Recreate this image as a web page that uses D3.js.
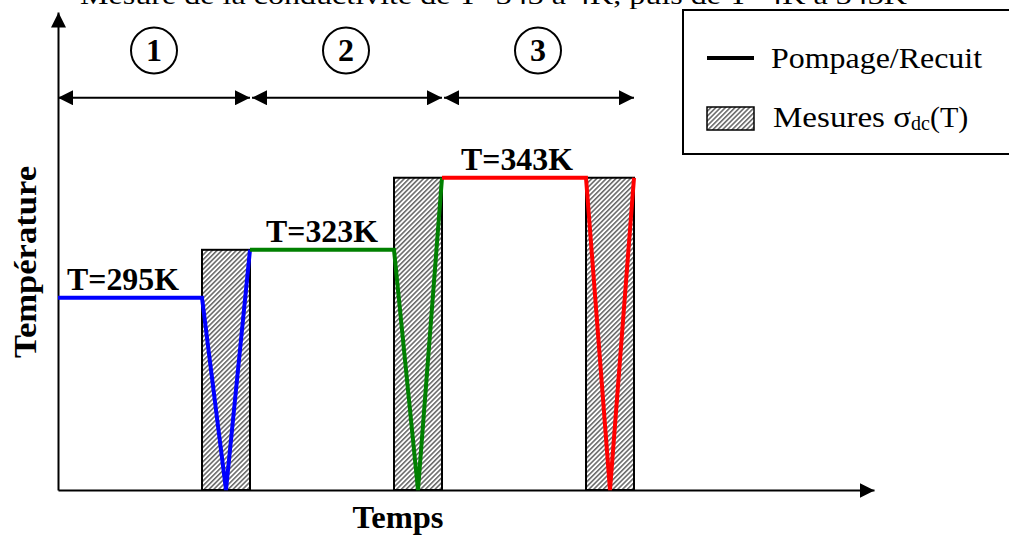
<!DOCTYPE html>
<html><head><meta charset="utf-8">
<script src="https://cdn.jsdelivr.net/npm/d3@7"></script>
<style>
html,body{margin:0;padding:0;background:#fff;overflow:hidden}
text{font-family:"Liberation Serif","Times New Roman",serif;fill:#000}
</style></head>
<body>
<svg id="chart" width="1009" height="537"></svg>
<script>
// ---- data (schematic units: time steps / temperature levels) ----
const titleText = "Mesure de la conductivité de T=343 à 4K, puis de T=4K à 343K";
const stepLabels = ["1", "2", "3"];
const stepStart = [0, 4, 8];
const stepEnd = [4, 8, 12];
const plateauLabels = ["T=295K", "T=323K", "T=343K"];
const plateauStart = [0, 4, 8];
const plateauEnd = [3, 7, 11];
const plateauLevel = [8, 10, 13];
const boxStart = [3, 7, 11];
const boxEnd = [4, 8, 12];
const boxTop = [10, 13, 13];
const seriesColors = ["#0000ff", "#008000", "#ff0000"];
const seriesTime = [[0, 3, 3.5, 4], [4, 7, 7.5, 8], [8, 11, 11.5, 12]];
const seriesLevel = [[8, 8, 0, 10], [10, 10, 0, 13], [13, 13, 0, 13]];
const legendLabels = ["Pompage/Recuit", "Mesures σdc(T)"];
const xLabel = "Temps", yLabel = "Température";

const svg = d3.select("#chart");
const x = d3.scaleLinear().domain([0, 17]).range([58, 874]);
const y = d3.scaleLinear().domain([0, 19.9]).range([490, 12]);

const defs = svg.append("defs");
const pat = defs.append("pattern").attr("id", "hatch").attr("patternUnits", "userSpaceOnUse")
  .attr("width", 3.4).attr("height", 3.4).attr("patternTransform", "rotate(45)");
pat.append("rect").attr("width", 3.4).attr("height", 3.4).attr("fill", "#fff");
pat.append("line").attr("x1", 0.8).attr("y1", 0).attr("x2", 0.8).attr("y2", 3.4)
  .attr("stroke", "#3a3a3a").attr("stroke-width", 1.2);

function marker(id, len, half, orient) {
  defs.append("marker").attr("id", id).attr("markerUnits", "userSpaceOnUse")
    .attr("viewBox", `0 ${-half} ${len} ${2 * half}`).attr("refX", len).attr("refY", 0)
    .attr("markerWidth", len).attr("markerHeight", 2 * half).attr("orient", orient)
    .append("path").attr("d", `M0,${-half}L${len},0L0,${half}Z`).attr("fill", "#000");
}
marker("axArrow", 15, 7.5, "auto");
marker("dblArrow", 15, 7.5, "auto-start-reverse");

// title (clipped at top, as in the source figure)
svg.append("text").attr("x", 80).attr("y", 4).attr("font-size", 26)
  .attr("textLength", 827).attr("lengthAdjust", "spacingAndGlyphs").text(titleText);

// measurement boxes
svg.append("g").selectAll("rect").data(boxStart).join("rect")
  .attr("x", (d) => x(d)).attr("y", (d, i) => y(boxTop[i]))
  .attr("width", (d, i) => x(boxEnd[i]) - x(d)).attr("height", (d, i) => y(0) - y(boxTop[i]))
  .attr("fill", "url(#hatch)").attr("stroke", "#000").attr("stroke-width", 2);

// axes
const gx = svg.append("g").attr("transform", `translate(0,${y(0)})`)
  .call(d3.axisBottom(x).tickValues([]).tickSizeOuter(0));
gx.select(".domain").attr("stroke", "#000").attr("stroke-width", 2).attr("marker-end", "url(#axArrow)");
const gy = svg.append("g").attr("transform", `translate(${x(0)},0)`)
  .call(d3.axisLeft(y).tickValues([]).tickSizeOuter(0));
gy.select(".domain").attr("stroke", "#000").attr("stroke-width", 2).attr("marker-end", "url(#axArrow)");

// temperature lines
const line = d3.line().x((d) => x(d[0])).y((d) => y(d[1]));
svg.append("g").selectAll("path").data(seriesTime).join("path")
  .attr("d", (d, i) => line(d.map((t, j) => [t, seriesLevel[i][j]])))
  .attr("fill", "none").attr("stroke", (d, i) => seriesColors[i])
  .attr("stroke-width", 4).attr("stroke-linejoin", "miter");

// plateau labels
svg.append("g").selectAll("text").data(plateauLabels).join("text")
  .attr("x", (d, i) => x((plateauStart[i] + plateauEnd[i]) / 2) - (i === 0 ? 7 : (i === 2 ? -3 : 0)))
  .attr("y", (d, i) => y(plateauLevel[i]) - 8)
  .attr("text-anchor", "middle").attr("font-size", 31).attr("font-weight", "bold")
  .attr("textLength", 112).attr("lengthAdjust", "spacingAndGlyphs").text((d) => d);

// step double arrows + numbered circles
const arrowLevel = 16.33, circleLevel = 18.3;
svg.append("g").selectAll("line").data(stepStart).join("line")
  .attr("x1", (d, i) => x(d) + (i ? 2 : 0)).attr("x2", (d, i) => x(stepEnd[i]))
  .attr("y1", y(arrowLevel)).attr("y2", y(arrowLevel))
  .attr("stroke", "#000").attr("stroke-width", 2)
  .attr("marker-start", "url(#dblArrow)").attr("marker-end", "url(#dblArrow)");
const circ = svg.append("g").selectAll("g").data(stepLabels).join("g")
  .attr("transform", (d, i) => `translate(${x((stepStart[i] + stepEnd[i]) / 2)},${y(circleLevel)})`);
circ.append("circle").attr("r", 23).attr("fill", "#fff").attr("stroke", "#000").attr("stroke-width", 2);
circ.append("text").attr("text-anchor", "middle").attr("y", 11).attr("font-size", 32)
  .attr("font-weight", "bold").text((d) => d);

// axis labels
svg.append("text").attr("x", 398).attr("y", 528).attr("text-anchor", "middle")
  .attr("font-size", 31).attr("font-weight", "bold")
  .attr("textLength", 91).attr("lengthAdjust", "spacingAndGlyphs").text(xLabel);
svg.append("text").attr("transform", "translate(36,262) rotate(-90)").attr("text-anchor", "middle")
  .attr("font-size", 31).attr("font-weight", "bold")
  .attr("textLength", 192).attr("lengthAdjust", "spacingAndGlyphs").text(yLabel);

// legend
const lg = svg.append("g");
lg.append("rect").attr("x", 683).attr("y", 10).attr("width", 340).attr("height", 144)
  .attr("fill", "#fff").attr("stroke", "#000").attr("stroke-width", 2);
lg.append("line").attr("x1", 707).attr("x2", 754).attr("y1", 58).attr("y2", 58)
  .attr("stroke", "#000").attr("stroke-width", 4);
lg.append("text").attr("x", 771).attr("y", 68).attr("font-size", 30)
  .attr("textLength", 211).attr("lengthAdjust", "spacingAndGlyphs").text(legendLabels[0]);
lg.append("rect").attr("x", 707).attr("y", 107).attr("width", 47).attr("height", 23)
  .attr("fill", "url(#hatch)").attr("stroke", "#000").attr("stroke-width", 1.5);
const parts = legendLabels[1].match(/^(Mesures σ)(dc)(\(T\))$/);
const t2 = lg.append("text").attr("x", 773).attr("y", 127).attr("font-size", 30);
t2.append("tspan").attr("textLength", 138).attr("lengthAdjust", "spacingAndGlyphs").text(parts[1]);
t2.append("tspan").attr("font-size", 20).attr("dy", 3).text(parts[2]);
t2.append("tspan").attr("dy", -3).text(parts[3]);
</script>
</body></html>
